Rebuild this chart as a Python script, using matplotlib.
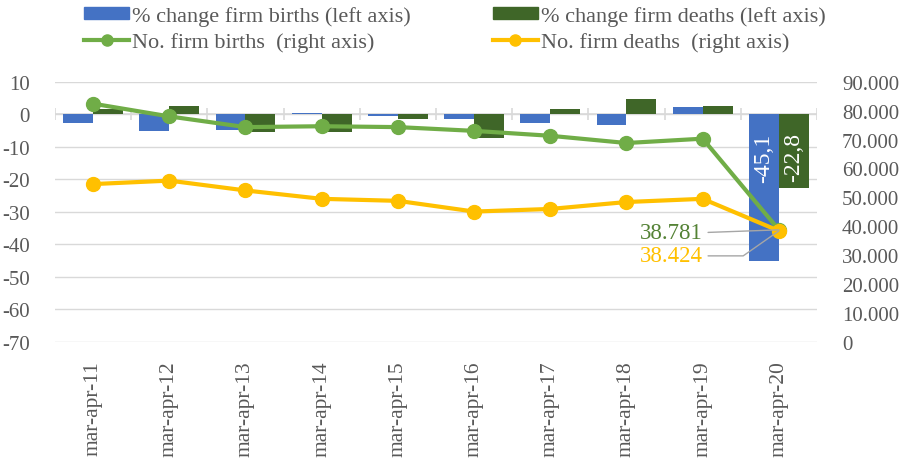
import numpy as np
import matplotlib
matplotlib.use("Agg")
import matplotlib.pyplot as plt
from matplotlib.ticker import FuncFormatter, MultipleLocator
from matplotlib.patches import Patch
from matplotlib.lines import Line2D

plt.rcParams['font.family'] = ['Liberation Serif', 'DejaVu Serif']
plt.rcParams['axes.unicode_minus'] = False

categories = ["mar-apr-11", "mar-apr-12", "mar-apr-13", "mar-apr-14", "mar-apr-15",
              "mar-apr-16", "mar-apr-17", "mar-apr-18", "mar-apr-19", "mar-apr-20"]
pct_births = [-2.8, -5.1, -4.8, 0.3, -0.4, -1.4, -2.6, -3.3, 2.2, -45.1]
pct_deaths = [1.5, 2.5, -5.6, -5.6, -1.5, -7.2, 1.6, 4.6, 2.4, -22.8]
no_births = [82400, 78000, 74300, 74600, 74300, 73000, 71300, 68800, 70300, 38781]
no_deaths = [54600, 55800, 52400, 49500, 48800, 45100, 46000, 48400, 49500, 38424]

C_BLUE = "#4472C4"
C_DGREEN = "#3F6628"
C_LGREEN = "#70AD47"
C_GOLD = "#FFC000"
C_GRID = "#D9D9D9"
C_TEXT = "#595959"

fig = plt.figure(figsize=(9.03, 4.60), dpi=100)
ax = fig.add_axes([55/903, 1-343/460, (817-55)/903, (343-82.7)/460])
ax2 = ax.twinx()

x = np.arange(len(categories))
w = 0.393
ax.bar(x - w/2, pct_births, w, color=C_BLUE, zorder=2)
ax.bar(x + w/2, pct_deaths, w, color=C_DGREEN, zorder=2)

ax.set_ylim(-70, 10)
ax.set_xlim(-0.5, len(categories) - 0.5)
ax.yaxis.set_major_locator(MultipleLocator(10))
ax.grid(axis='y', color=C_GRID, linewidth=1, zorder=0)
ax.set_axisbelow(True)
for s in ax.spines.values():
    s.set_visible(False)
for s in ax2.spines.values():
    s.set_visible(False)

# category axis at zero with tick marks between categories
ax.axhline(0, color=C_GRID, linewidth=1.2, zorder=1)
bounds = np.arange(len(categories) + 1) - 0.5
ax.vlines(bounds, -1.85, 1.85, color=C_GRID, linewidth=1.2, zorder=1)

ax.set_xticks(x)
ax.set_xticklabels(categories, rotation=90, fontsize=15.5, color=C_TEXT)
ax.tick_params(axis='x', length=0, pad=13)
ax.tick_params(axis='y', length=0, pad=18, labelsize=15, labelcolor=C_TEXT)

ax2.plot(x, no_births, color=C_LGREEN, linewidth=3, marker='o', markersize=10, zorder=3)
ax2.plot(x, no_deaths, color=C_GOLD, linewidth=3, marker='o', markersize=10, zorder=3)
ax2.set_ylim(0, 90000)
ax2.yaxis.set_major_locator(MultipleLocator(10000))
ax2.yaxis.set_major_formatter(FuncFormatter(lambda v, p: f"{int(v):,}".replace(",", ".")))
ax2.tick_params(axis='y', length=0, pad=18, labelsize=15, labelcolor=C_TEXT)

# bar data labels for last category
last = len(categories) - 1
ax.annotate(f"{pct_births[last]:.1f}".replace(".", ","), (x[last] - w/2, 0),
            xytext=(0, -13), textcoords='offset points', rotation=90,
            ha='center', va='top', color='white', fontsize=17)
ax.annotate(f"{pct_deaths[last]:.1f}".replace(".", ","), (x[last] + w/2, 0),
            xytext=(0, -13), textcoords='offset points', rotation=90,
            ha='center', va='top', color='white', fontsize=17)

# line data labels with leader lines
ax2.annotate(f"{no_births[last]:,}".replace(",", "."), (x[last], no_births[last]),
             xytext=(-55, -2), textcoords='offset points', ha='right', va='center',
             color="#548235", fontsize=16.5,
             arrowprops=dict(arrowstyle='-', color='#A6A6A6', lw=1,
                             shrinkA=2, shrinkB=0, relpos=(1, 0.5)))
ax2.annotate(f"{no_deaths[last]:,}".replace(",", "."), (x[last], no_deaths[last]),
             xytext=(-55, -18), textcoords='offset points', ha='right', va='center',
             color=C_GOLD, fontsize=16.5,
             arrowprops=dict(arrowstyle='-', color='#A6A6A6', lw=1,
                             shrinkA=2, shrinkB=0, relpos=(1, 0.5),
                             connectionstyle="angle,angleA=0,angleB=35,rad=0"))

handles = [Patch(color=C_BLUE),
           Line2D([], [], color=C_LGREEN, lw=3, marker='o', markersize=8),
           Patch(color=C_DGREEN),
           Line2D([], [], color=C_GOLD, lw=3, marker='o', markersize=8)]
labels = ["% change firm births (left axis)", "No. firm births  (right axis)",
          "% change firm deaths (left axis)", "No. firm deaths  (right axis)"]
leg = fig.legend(handles, labels, ncol=2, loc='upper left', bbox_to_anchor=(71/903, 1.014),
                 frameon=False, fontsize=16, labelcolor=C_TEXT, handlelength=2.0,
                 handleheight=0.45, handletextpad=0.15, columnspacing=3.7,
                 labelspacing=0.28, borderpad=0.1)

fig.savefig("out.png", dpi=100)
